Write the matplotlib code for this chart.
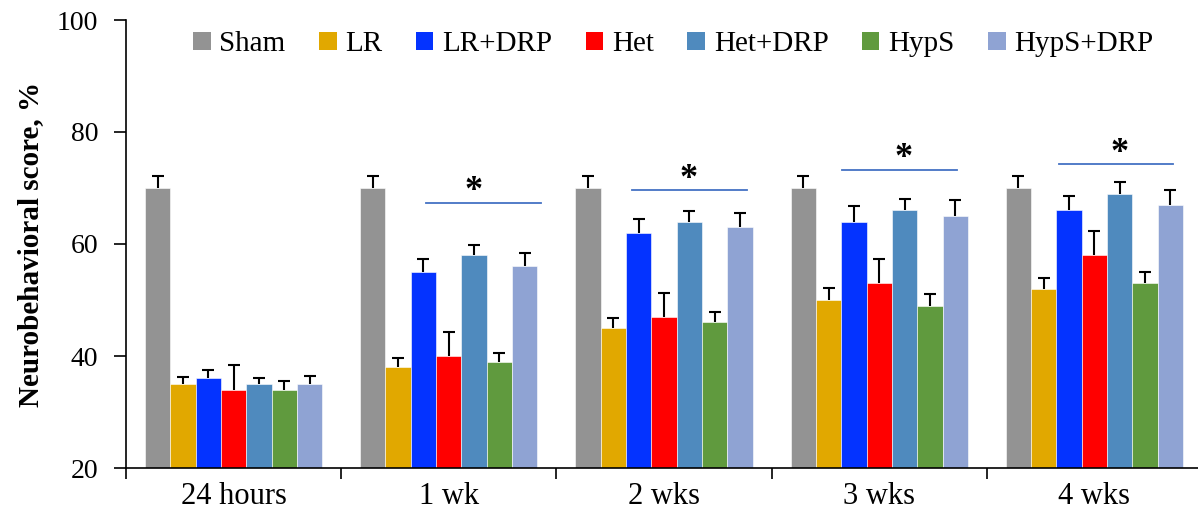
import numpy as np
import matplotlib
matplotlib.use("Agg")
import matplotlib.pyplot as plt
from matplotlib.patches import Patch

plt.rcParams['font.family'] = ['Liberation Serif', 'DejaVu Serif']

timepoints = ['24 hours', '1 wk', '2 wks', '3 wks', '4 wks']
groups = ['Sham', 'LR', 'LR+DRP', 'Het', 'Het+DRP', 'HypS', 'HypS+DRP']
colors = ['#939393', '#E1A800', '#0433FF', '#FF0000', '#4F8ABE', '#609A3E', '#8FA3D3']

# mean score per group, one entry per timepoint
sham      = [70, 70, 70, 70, 70]
lr        = [35, 38, 45, 50, 52]
lr_drp    = [36, 55, 62, 64, 66]
het       = [34, 40, 47, 53, 58]
het_drp   = [35, 58, 64, 66, 69]
hyps      = [34, 39, 46, 49, 53]
hyps_drp  = [35, 56, 63, 65, 67]

# standard deviations (upper bar only)
sham_sd     = [2.1, 2.2, 2.2, 2.2, 2.1]
lr_sd       = [1.3, 1.7, 1.8, 2.1, 2.0]
lr_drp_sd   = [1.5, 2.4, 2.5, 2.7, 2.6]
het_sd      = [4.4, 4.3, 4.3, 4.4, 4.3]
het_drp_sd  = [1.1, 1.8, 1.9, 2.0, 2.1]
hyps_sd     = [1.6, 1.6, 1.9, 2.0, 2.0]
hyps_drp_sd = [1.4, 2.4, 2.6, 2.9, 2.7]

means = [sham, lr, lr_drp, het, het_drp, hyps, hyps_drp]
sds = [sham_sd, lr_sd, lr_drp_sd, het_sd, het_drp_sd, hyps_sd, hyps_drp_sd]

# significance brackets: timepoint index, level, left/right offset from group centre
sig_idx = [1, 2, 3, 4]
sig_level = [67.3, 69.6, 73.3, 74.2]
sig_left = [-0.105, -0.147, -0.171, -0.166]
sig_right = [0.429, 0.387, 0.362, 0.366]

fig = plt.figure(figsize=(11.98, 5.09), dpi=100)
ax = fig.add_axes([126/1198, 41/509, 1076/1198, 448/509])

x = np.arange(len(timepoints))
w = 0.1177
for i, (m, s, c) in enumerate(zip(means, sds, colors)):
    pos = x + (i - 3) * w
    ax.bar(pos, m, w, color=c, edgecolor='white', linewidth=0.4, zorder=2)
    eb = ax.errorbar(pos, m, yerr=[np.zeros(len(s)), s], fmt='none', ecolor='black',
                     elinewidth=1.5, capsize=4, capthick=1.5, zorder=3)
    eb[1][0].set_visible(False)  # hide the cap sitting on the bar top

for k, lvl, l, r in zip(sig_idx, sig_level, sig_left, sig_right):
    ax.plot([k + l, k + r], [lvl, lvl], color='#4472C4', lw=1.3, zorder=3)
    ax.text(k + 0.115, lvl + 2.0, '*', ha='center', va='center',
            fontsize=26, fontweight='bold')

ax.set_xlim(-0.5, 4.5)
ax.set_ylim(20, 100)
ax.set_yticks([20, 40, 60, 80, 100])
ax.tick_params(axis='y', labelsize=20, length=9, width=1.2, direction='out', pad=11)
ax.set_xticks(x)
ax.set_xticklabels(timepoints, fontsize=22)
ax.set_xticks(np.arange(-0.5, 5.0, 1.0), minor=True)
ax.tick_params(axis='x', which='major', length=0, pad=10)
ax.tick_params(axis='x', which='minor', length=8, width=1.2, direction='out')

for side in ['top', 'right']:
    ax.spines[side].set_visible(False)
ax.spines['left'].set_linewidth(1.2)
ax.spines['bottom'].set_linewidth(1.2)

ax.set_ylabel('Neurobehavioral score, %', fontsize=21, fontweight='bold')
ax.yaxis.set_label_coords(-0.076, 0.5)

handles = [Patch(facecolor=c, edgecolor='none') for c in colors]
fig.legend(handles, groups, loc='center', bbox_to_anchor=(0.562, 0.913), ncol=7,
           frameon=False, fontsize=21, handlelength=0.6, handleheight=0.6,
           handletextpad=0.3, columnspacing=1.15)

fig.savefig('out.png', dpi=100)
